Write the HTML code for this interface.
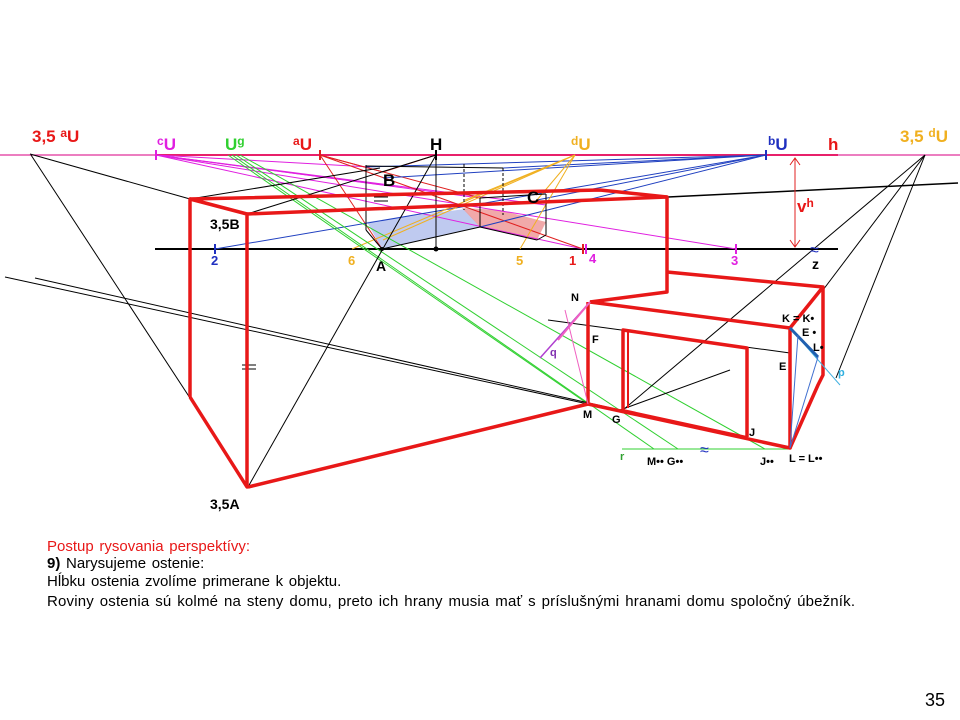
<!DOCTYPE html>
<html><head><meta charset="utf-8"><style>
html,body{margin:0;padding:0;background:#fff;}
svg{display:block;font-family:"Liberation Sans",Arial,sans-serif;}
.t{font-family:"Liberation Sans",Arial,sans-serif;font-size:15px;fill:#000;word-spacing:1.5px;}
</style></head><body>
<svg width="960" height="720" viewBox="0 0 960 720" xmlns="http://www.w3.org/2000/svg">
<rect width="960" height="720" fill="#fff"/>
<polygon points="367,222 382,249 480,227 465,209" fill="#b8c4ee" opacity="0.9"/>
<polygon points="462,208 480,227 537,240 546,222 500,210" fill="#f0a0a0" opacity="0.9"/>
<line x1="0" y1="155" x2="960" y2="155" stroke="#e0309a" stroke-width="1.2"/>
<line x1="156" y1="155" x2="838" y2="155" stroke="#e8206a" stroke-width="2"/>
<line x1="155" y1="249" x2="838" y2="249" stroke="#000" stroke-width="2"/>
<line x1="668" y1="197" x2="958" y2="183" stroke="#000" stroke-width="1.5"/>
<g stroke="#e020e0" stroke-width="1">
<line x1="156" y1="155" x2="370" y2="167"/>
<line x1="156" y1="155" x2="383" y2="185"/>
<line x1="156" y1="155" x2="546" y2="205"/>
<line x1="156" y1="155" x2="583" y2="249"/>
<line x1="156" y1="155" x2="736" y2="249"/>
<line x1="156" y1="155" x2="480" y2="198"/>
</g>
<g stroke="#e02020" stroke-width="1">
<line x1="320" y1="155" x2="382" y2="249"/>
<line x1="320" y1="155" x2="583" y2="249"/>
<line x1="320" y1="155" x2="383" y2="172"/>
<line x1="320" y1="155" x2="480" y2="198"/>
<line x1="436" y1="155" x2="383" y2="172"/>
</g>
<g stroke="#2040c0" stroke-width="1">
<line x1="766" y1="155" x2="215" y2="249"/>
<line x1="766" y1="155" x2="366" y2="167"/>
<line x1="766" y1="155" x2="383" y2="178"/>
<line x1="766" y1="155" x2="503" y2="168"/>
<line x1="766" y1="155" x2="537" y2="200"/>
<line x1="766" y1="155" x2="480" y2="227"/>
</g>
<g stroke="#f0b020" stroke-width="1">
<line x1="575" y1="155" x2="352" y2="249"/>
<line x1="575" y1="155" x2="520" y2="249"/>
<line x1="575" y1="155" x2="383" y2="240"/>
<line x1="575" y1="155" x2="537" y2="200"/>
<line x1="575" y1="155" x2="465" y2="200"/>
</g>
<g stroke="#30d030" stroke-width="1">
<line x1="228" y1="155" x2="588" y2="404"/>
<line x1="232" y1="155" x2="654" y2="449"/>
<line x1="236" y1="155" x2="678" y2="449"/>
<line x1="240" y1="155" x2="765" y2="449"/>
<line x1="622" y1="449" x2="790" y2="449"/>
</g>
<g stroke="#000" stroke-width="1" fill="none">
<line x1="31" y1="155" x2="190" y2="398"/>
<line x1="30" y1="154" x2="190" y2="199"/>
<line x1="5" y1="277" x2="588" y2="404"/>
<line x1="35" y1="278" x2="620" y2="410"/>
<line x1="248" y1="487" x2="436" y2="155"/>
<line x1="247" y1="214" x2="436" y2="155"/>
<line x1="190" y1="199" x2="380" y2="168"/>
<line x1="366" y1="165" x2="366" y2="230"/>
<line x1="366" y1="230" x2="382" y2="249"/>
<line x1="366" y1="166" x2="503" y2="168"/>
<line x1="503" y1="168" x2="503" y2="215" stroke-dasharray="3,2"/>
<line x1="464" y1="164" x2="464" y2="210" stroke-dasharray="3,2"/>
<line x1="436" y1="155" x2="436" y2="249"/>
<line x1="382" y1="249" x2="480" y2="227"/>
<line x1="480" y1="198" x2="546" y2="194"/>
<line x1="480" y1="198" x2="480" y2="227"/>
<line x1="546" y1="194" x2="546" y2="235"/>
<line x1="546" y1="235" x2="537" y2="240"/>
<line x1="480" y1="227" x2="537" y2="240"/>
<line x1="925" y1="155" x2="623" y2="410"/>
<line x1="925" y1="155" x2="823" y2="290"/>
<line x1="925" y1="155" x2="836" y2="378"/>
<line x1="548" y1="320" x2="790" y2="353"/>
<line x1="620" y1="410" x2="730" y2="370"/>
<line x1="242" y1="365" x2="256" y2="365"/><line x1="242" y1="369" x2="256" y2="369"/>
<line x1="374" y1="197" x2="388" y2="197"/><line x1="374" y1="201" x2="388" y2="201"/>
</g>
<circle cx="436" cy="249" r="2.5" fill="#000"/>
<circle cx="382" cy="249" r="2" fill="#000"/>
<g stroke="#e81818" stroke-width="3.5" fill="none" stroke-linejoin="round">
<polyline points="190,397 190,199 247,214 247,487 190,397"/>
<line x1="248" y1="487" x2="588" y2="404"/>
<polyline points="190,199 600,190 667,197"/>
<polyline points="247,214 667,197 667,292 590,302"/>
<polyline points="667,272 823,287 823,375 818,385 790,448"/>
<polyline points="590,302 790,328 790,448 588,404 588,302"/>
<line x1="790" y1="328" x2="823" y2="287"/>
<polyline points="623,410 623,330 747,348 747,437"/>
<line x1="628" y1="332" x2="628" y2="408" stroke-width="2"/>
<line x1="623" y1="410" x2="747" y2="437" stroke-width="2"/>
</g>
<line x1="540" y1="358" x2="590" y2="302" stroke="#b040d0" stroke-width="1.5"/>
<line x1="558" y1="340" x2="590" y2="302" stroke="#f060c0" stroke-width="2"/>
<line x1="588" y1="404" x2="565" y2="310" stroke="#f060c0" stroke-width="1"/>
<line x1="790" y1="328" x2="840" y2="385" stroke="#40b0e0" stroke-width="1"/>
<line x1="790" y1="328" x2="818" y2="357" stroke="#2060b0" stroke-width="3"/>
<line x1="790" y1="448" x2="818" y2="357" stroke="#4070d0" stroke-width="1"/>
<line x1="790" y1="448" x2="798" y2="335" stroke="#4070d0" stroke-width="1"/>
<g stroke-width="2">
<line x1="156" y1="150" x2="156" y2="160" stroke="#e020e0"/>
<line x1="320" y1="150" x2="320" y2="160" stroke="#e02020"/>
<line x1="436" y1="150" x2="436" y2="160" stroke="#000"/>
<line x1="766" y1="150" x2="766" y2="160" stroke="#2030c0"/>
<line x1="215" y1="244" x2="215" y2="254" stroke="#2030c0"/>
<line x1="583" y1="244" x2="583" y2="254" stroke="#e02020"/>
<line x1="586" y1="244" x2="586" y2="254" stroke="#e020e0"/>
<line x1="736" y1="244" x2="736" y2="254" stroke="#e020e0"/>
</g>
<line x1="795" y1="158" x2="795" y2="247" stroke="#e02020" stroke-width="1"/>
<polyline points="790,165 795,158 800,165" fill="none" stroke="#e02020"/>
<polyline points="790,240 795,247 800,240" fill="none" stroke="#e02020"/>
<text x="810" y="255" font-size="16" fill="#2030c0">≈</text>
<text x="700" y="455" font-size="16" fill="#2030c0">≈</text>
<g font-weight="bold" font-size="17">
<text x="32" y="142" fill="#e81818">3,5 <tspan font-size="12" dy="-5">a</tspan><tspan dy="5">U</tspan></text>
<text x="157" y="150" fill="#e020e0"><tspan font-size="12" dy="-5">c</tspan><tspan dy="5">U</tspan></text>
<text x="225" y="150" fill="#30d030">U<tspan font-size="12" dy="-5">g</tspan></text>
<text x="293" y="150" fill="#e81818"><tspan font-size="12" dy="-5">a</tspan><tspan dy="5">U</tspan></text>
<text x="430" y="150" fill="#000">H</text>
<text x="571" y="150" fill="#f0b020"><tspan font-size="12" dy="-5">d</tspan><tspan dy="5">U</tspan></text>
<text x="768" y="150" fill="#2030c0"><tspan font-size="12" dy="-5">b</tspan><tspan dy="5">U</tspan></text>
<text x="828" y="150" fill="#e81818">h</text>
<text x="900" y="142" fill="#f0b020">3,5 <tspan font-size="12" dy="-5">d</tspan><tspan dy="5">U</tspan></text>
<text x="797" y="212" fill="#e81818">v<tspan font-size="12" dy="-5">h</tspan></text>
<text x="383" y="186" fill="#000">B</text>
<text x="527" y="203" fill="#000">C</text>
</g>
<g font-weight="bold" font-size="14">
<text x="210" y="229" fill="#000">3,5B</text>
<text x="210" y="509" fill="#000">3,5A</text>
<text x="211" y="265" fill="#2030c0" font-size="13">2</text>
<text x="348" y="265" fill="#f0b020" font-size="13">6</text>
<text x="376" y="271" fill="#000">A</text>
<text x="516" y="265" fill="#f0b020" font-size="13">5</text>
<text x="569" y="265" fill="#e81818" font-size="13">1</text>
<text x="589" y="263" fill="#e020e0" font-size="13">4</text>
<text x="731" y="265" fill="#e020e0" font-size="13">3</text>
<text x="812" y="269" fill="#000">z</text>
<text x="571" y="301" fill="#000" font-size="11">N</text>
<text x="592" y="343" fill="#000" font-size="11">F</text>
<text x="550" y="356" fill="#8030b0" font-size="11">q</text>
<text x="583" y="418" fill="#000" font-size="11">M</text>
<text x="612" y="423" fill="#000" font-size="11">G</text>
<text x="749" y="436" fill="#000" font-size="11">J</text>
<text x="620" y="460" fill="#30a030" font-size="11">r</text>
<text x="647" y="465" fill="#000" font-size="11">M•• G••</text>
<text x="760" y="465" fill="#000" font-size="11">J••</text>
<text x="789" y="462" fill="#000" font-size="11">L  = L••</text>
<text x="782" y="322" fill="#000" font-size="11">K = K•</text>
<text x="802" y="336" fill="#000" font-size="11">E •</text>
<text x="813" y="351" fill="#000" font-size="11">L•</text>
<text x="779" y="370" fill="#000" font-size="11">E</text>
<text x="838" y="376" fill="#30b0e0" font-size="11">p</text>
</g>
<text x="47" y="551" class="t" style="fill:#e81818">Postup rysovania  perspektívy:</text>
<text x="47" y="568" class="t"><tspan font-weight="bold">9)</tspan> Narysujeme  ostenie:</text>
<text x="47" y="586" class="t">Hĺbku  ostenia  zvolíme  primerane  k objektu.</text>
<text x="47" y="606" class="t" textLength="808" lengthAdjust="spacing">Roviny  ostenia  sú  kolmé na steny  domu, preto ich hrany  musia  mať  s príslušnými  hranami domu spoločný úbežník.</text>
<text x="925" y="706" font-size="18" fill="#000">35</text>
</svg>
</body></html>
